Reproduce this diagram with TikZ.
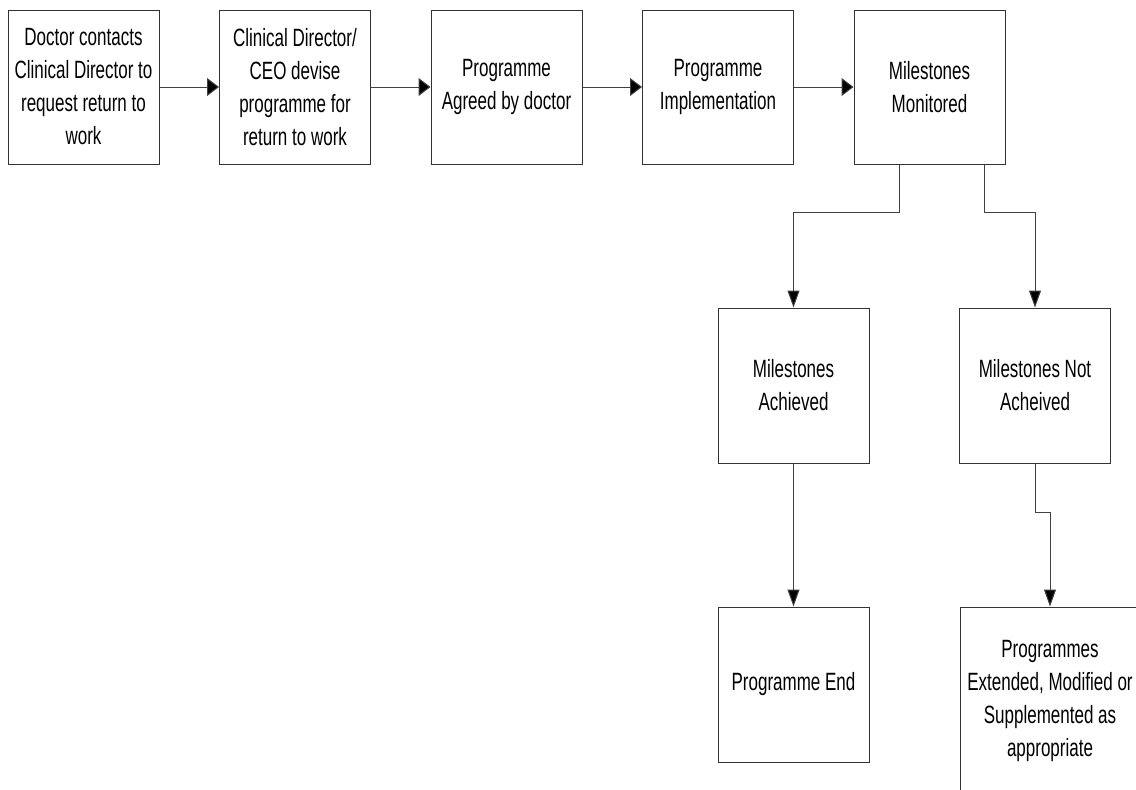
\documentclass[tikz,border=0pt]{standalone}
\usepackage{fontspec}
\setmainfont{Liberation Sans}[FakeStretch=0.68]
\usetikzlibrary{arrows.meta}
\begin{document}
\begin{tikzpicture}[x=1pt,y=-1pt,
  box/.style={draw=black!80,line width=1pt,inner sep=0pt,minimum width=151pt,minimum height=154pt,align=center,font=\fontsize{25}{33}\selectfont},
  harr/.style={draw=black!75,line width=1pt,-{Triangle[length=12pt,width=18pt,fill=black]}},
  varr/.style={draw=black!75,line width=1pt,-{Triangle[length=17pt,width=12pt,fill=black]}}]
\useasboundingbox (0,0) rectangle (1136,790);
\clip (0,0) rectangle (1136,790);
\fill[white] (0,0) rectangle (1136,790);
\node[box] (b1) at (83.5,87) {Doctor contacts\\Clinical Director to\\request return to\\work};
\node[box] (b2) at (295,87) {Clinical Director/\\CEO devise\\programme for\\return to work};
\node[box] (b3) at (506.5,87) {Programme\\Agreed by doctor};
\node[box] (b4) at (718,87) {Programme\\Implementation};
\node[box] (b5) at (929.5,87) {Milestones\\Monitored};
\node[box,minimum height=155pt] (ma) at (793.5,385.5) {Milestones\\Achieved};
\node[box,minimum height=155pt] (mn) at (1035,385.5) {Milestones Not\\Acheived};
\node[box,minimum height=155pt] (pe) at (793.5,684.5) {Programme End};
\node[box,minimum width=180pt,minimum height=188pt] (pm) at (1050,701) {Programmes\\Extended, Modified or\\Supplemented as\\appropriate};
\draw[harr] (b1.east) -- (b2.west);
\draw[harr] (b2.east) -- (b3.west);
\draw[harr] (b3.east) -- (b4.west);
\draw[harr] (b4.east) -- (b5.west);
\draw[varr] ([xshift=-30.5pt]b5.south) -- ++(0pt,-48pt) -| (ma.north);
\draw[varr] ([xshift=54.5pt]b5.south) -- ++(0pt,-48pt) -| (mn.north);
\draw[varr] (ma.south) -- (pe.north);
\draw[varr] (mn.south) -- ++(0pt,-49pt) -| (pm.north);
\end{tikzpicture}
\end{document}
